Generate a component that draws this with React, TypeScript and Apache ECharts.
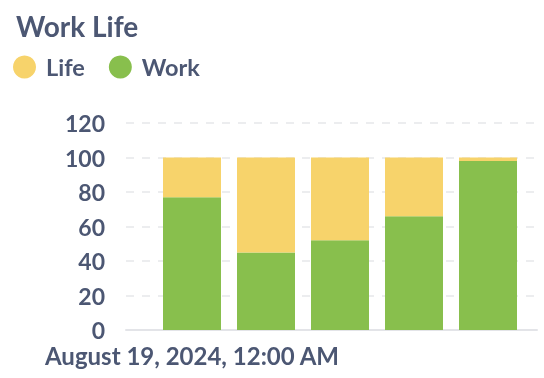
import React, { useEffect, useRef } from "react";
import * as echarts from "echarts";

const categories = [
  "August 19, 2024, 12:00 AM",
  "August 20, 2024, 12:00 AM",
  "August 21, 2024, 12:00 AM",
  "August 22, 2024, 12:00 AM",
  "August 23, 2024, 12:00 AM",
];
const workValues = [77, 45, 52, 66, 98];
const lifeValues = [23, 55, 48, 34, 2];
const yTicks = [0, 20, 40, 60, 80, 100, 120];

const TEXT = "#4C5773";
const FONT = "Lato";

export default function App() {
  const ref = useRef<HTMLDivElement>(null);
  useEffect(() => {
    if (!ref.current) return;
    const chart = echarts.init(ref.current, undefined, { renderer: "svg" });
    const top = 123;
    const bottom = 378 - 330;
    chart.setOption({
      animation: false,
      title: {
        text: "Work Life",
        left: 11,
        top: 7,
        textStyle: { fontFamily: FONT, fontWeight: 700, fontSize: 28, color: TEXT },
      },
      legend: {
        left: 8,
        top: 50,
        icon: "circle",
        itemWidth: 23,
        itemHeight: 23,
        itemGap: 24,
        textStyle: {
          fontFamily: FONT,
          fontWeight: 700,
          fontSize: 23.5,
          color: TEXT,
          padding: [0, 0, 0, 5],
        },
        data: ["Life", "Work"],
      },
      grid: [
        { left: 126, right: 7, top, bottom },
        { left: 155, right: 19, top, bottom },
      ],
      xAxis: [
        {
          gridIndex: 0,
          type: "category",
          data: [""],
          axisLine: { show: true, lineStyle: { color: "#E3E4E8", width: 2 } },
          axisTick: { show: false },
          axisLabel: { show: false },
        },
        {
          gridIndex: 1,
          type: "category",
          data: categories,
          axisLine: { show: false },
          axisTick: { show: false },
          axisLabel: {
            interval: (i: number) => i === 0,
            margin: 13,
            fontFamily: FONT,
            fontWeight: 700,
            fontSize: 24,
            lineHeight: 24,
            color: TEXT,
          },
        },
      ],
      yAxis: [
        {
          gridIndex: 0,
          type: "value",
          min: yTicks[0],
          max: yTicks[yTicks.length - 1],
          interval: 20,
          axisLine: { show: false },
          axisTick: { show: false },
          axisLabel: {
            margin: 21,
            fontFamily: FONT,
            fontWeight: 700,
            fontSize: 23,
            lineHeight: 18,
            color: TEXT,
          },
          splitLine: { lineStyle: { color: "#ECEDEF", type: [8, 8], width: 2 } },
        },
        {
          gridIndex: 1,
          type: "value",
          min: yTicks[0],
          max: yTicks[yTicks.length - 1],
          interval: 20,
          show: false,
          splitLine: { show: false },
        },
      ],
      series: [
        {
          name: "Work",
          type: "bar",
          stack: "total",
          xAxisIndex: 1,
          yAxisIndex: 1,
          barWidth: 58,
          data: workValues,
          itemStyle: { color: "#88BF4D" },
        },
        {
          name: "Life",
          type: "bar",
          stack: "total",
          xAxisIndex: 1,
          yAxisIndex: 1,
          barWidth: 58,
          data: lifeValues,
          itemStyle: { color: "#F7D36B" },
        },
      ],
    });
    return () => chart.dispose();
  }, []);
  return (
    <div
      ref={ref}
      style={{ position: "fixed", left: 0, top: 0, width: 544, height: 378 }}
    />
  );
}
